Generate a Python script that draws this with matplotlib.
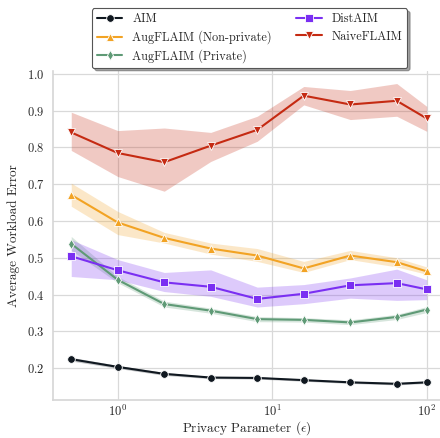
import numpy as np
import matplotlib
matplotlib.use("Agg")
import matplotlib.pyplot as plt
import seaborn as sns

# privacy budgets on the x axis
epsilons = [0.5, 1, 2, 4, 8, 16, 32, 64, 100]

aim = [0.224, 0.203, 0.184, 0.174, 0.173, 0.167, 0.161, 0.157, 0.161]
aim_lo = [0.219, 0.199, 0.180, 0.171, 0.170, 0.164, 0.158, 0.154, 0.158]
aim_hi = [0.229, 0.207, 0.188, 0.177, 0.176, 0.170, 0.164, 0.160, 0.164]

aug_np = [0.671, 0.596, 0.554, 0.525, 0.506, 0.471, 0.506, 0.488, 0.463]
aug_np_lo = [0.640, 0.563, 0.540, 0.510, 0.490, 0.460, 0.495, 0.475, 0.455]
aug_np_hi = [0.703, 0.626, 0.569, 0.540, 0.525, 0.490, 0.520, 0.500, 0.475]

aug_p = [0.538, 0.440, 0.374, 0.356, 0.333, 0.331, 0.324, 0.339, 0.359]
aug_p_lo = [0.520, 0.432, 0.366, 0.349, 0.326, 0.325, 0.318, 0.332, 0.351]
aug_p_hi = [0.558, 0.449, 0.382, 0.363, 0.340, 0.337, 0.331, 0.346, 0.367]

dist = [0.504, 0.466, 0.433, 0.421, 0.388, 0.402, 0.425, 0.431, 0.414]
dist_lo = [0.449, 0.440, 0.408, 0.395, 0.366, 0.375, 0.390, 0.384, 0.386]
dist_hi = [0.549, 0.495, 0.460, 0.467, 0.420, 0.427, 0.445, 0.469, 0.440]

naive = [0.841, 0.785, 0.760, 0.805, 0.848, 0.941, 0.917, 0.927, 0.879]
naive_lo = [0.792, 0.721, 0.681, 0.762, 0.817, 0.916, 0.876, 0.885, 0.844]
naive_hi = [0.896, 0.846, 0.853, 0.841, 0.885, 0.966, 0.955, 0.974, 0.912]

series = [
   ("AIM", aim, aim_lo, aim_hi, "#101820", "o", 5.5),
   ("AugFLAIM (Non-private)", aug_np, aug_np_lo, aug_np_hi, "#f2a324", "^", 5.5),
   ("AugFLAIM (Private)", aug_p, aug_p_lo, aug_p_hi, "#5f9a76", "d", 5.5),
   ("DistAIM", dist, dist_lo, dist_hi, "#7a2ff2", "s", 5.5),
   ("NaiveFLAIM", naive, naive_lo, naive_hi, "#c52a12", "v", 5.5),
]

sns.set_style("whitegrid")
plt.rcParams["font.family"] = "serif"
plt.rcParams["font.serif"] = ["cmr10"]
plt.rcParams["mathtext.fontset"] = "cm"
plt.rcParams["axes.formatter.use_mathtext"] = True

fig = plt.figure(figsize=(4.4, 4.38), dpi=100)
ax = fig.add_axes([0.1205, 0.0868, 0.8795, 0.751])

for label, y, lo, hi, c, m, ms in series:
   ax.fill_between(epsilons, lo, hi, color=c, alpha=0.25, linewidth=0)
   ax.plot(epsilons, y, color=c, marker=m, markersize=ms, linewidth=1.5,
           markeredgecolor="white", markeredgewidth=0.6, label=label)

ax.set_xscale("log")
ax.set_xlim(10 ** -0.419, 10 ** 2.086)
ax.set_ylim(0.113, 1.008)
ax.set_yticks([0.2, 0.3, 0.4, 0.5, 0.6, 0.7, 0.8, 0.9, 1.0])
ax.tick_params(axis="y", labelsize=9, length=0, pad=6)
ax.tick_params(axis="x", labelsize=9, length=0, pad=3)
ax.grid(True, which="major", color="#d9d9d9", linewidth=0.9)
ax.grid(False, which="minor")
for s in ["left", "bottom"]:
   ax.spines[s].set_color("#d6d6d6")
   ax.spines[s].set_linewidth(1.2)
for s in ["top", "right"]:
   ax.spines[s].set_visible(False)

ax.set_xlabel(r"Privacy Parameter ($\epsilon$)", fontsize=9.5, labelpad=0)
ax.set_ylabel("Average Workload Error", fontsize=9.5, labelpad=5)

leg = ax.legend(loc="lower center", bbox_to_anchor=(0.508, 1.0), ncol=2,
                fontsize=8.8, frameon=True, shadow=True, fancybox=True,
                columnspacing=2.0, handlelength=2.1, handletextpad=0.8,
                labelspacing=0.42, borderaxespad=0.25)
leg.get_frame().set_edgecolor("#555555")
leg.get_frame().set_linewidth(0.8)

fig.savefig("out.png", dpi=100)
